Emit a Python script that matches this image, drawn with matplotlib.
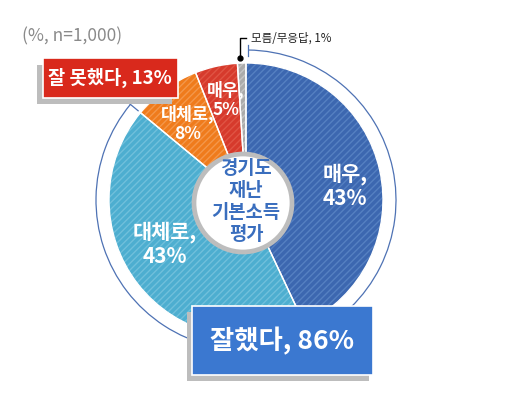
import matplotlib
matplotlib.use("Agg")
import matplotlib.pyplot as plt
from matplotlib.patches import Wedge, Circle, Rectangle, Arc
import numpy as np

plt.rcParams['font.family'] = ['Noto Sans CJK KR', 'DejaVu Sans']
plt.rcParams['hatch.linewidth'] = 1.0

# Data
categories = ['모름/무응답', '잘 못했다 - 매우', '잘 못했다 - 대체로', '잘했다 - 대체로', '잘했다 - 매우']
values = [1, 5, 8, 43, 43]
face_colors = ['#ABABAB', '#D63A2C', '#EF7B1C', '#4DAED0', '#3C67B0']
stripe_colors = ['#C6C6C6', '#E05444', '#F4974A', '#70C0DB', '#5580C2']
good_total = 86
bad_total = 13
unknown_total = 1
center_lines = ['경기도', '재난', '기본소득', '평가']

W, H = 507, 396
fig = plt.figure(figsize=(W / 100, H / 100), dpi=100)
ax = fig.add_axes([0, 0, 1, 1])

def Y(y):
    return H - y

cx, cy = 246, Y(200)
R = 137

# Pie wedges, counterclockwise from top
wedges, _ = ax.pie(values, startangle=90, counterclock=True, center=(cx, cy), radius=R,
                   colors=face_colors, wedgeprops=dict(linewidth=0), frame=True)
ax.set_xlim(0, W)
ax.set_ylim(0, H)
ax.set_aspect('equal')
ax.axis('off')
for w, sc in zip(wedges, stripe_colors):
    h = Wedge(w.center, w.r, w.theta1, w.theta2, facecolor='none', edgecolor=sc,
              hatch='/////', linewidth=0, zorder=w.get_zorder() + 0.1)
    ax.add_patch(h)
    sep = Wedge(w.center, w.r, w.theta1, w.theta2, facecolor='none', edgecolor='white',
                linewidth=1.0, zorder=w.get_zorder() + 0.2)
    ax.add_patch(sep)

# Centre hole
hx, hy = 243, Y(203)
ax.add_patch(Circle((hx, hy), 49, facecolor='white', edgecolor='#BDBDBD', linewidth=3.4, zorder=5))
ax.text(246, Y(201), '\n'.join(center_lines), ha='center', va='center', fontsize=13.5,
        fontweight='bold', color='#3A6EBE', linespacing=1.2, zorder=6)

# Outer arc for 잘했다 (86%)
Ra = 150
theta_end = 90
theta_start = 90 - good_total * 3.6
ax.add_patch(Arc((cx, cy), 2 * Ra, 2 * Ra, theta1=theta_start + 360, theta2=theta_end + 360 - 0.8,
                 color='#4E72B4', linewidth=0.9, zorder=3))
# ticks at ends
t = np.deg2rad(89.2)
ax.plot([cx + Ra * np.cos(t)] * 2, [Y(45), Y(56)], color='#4E72B4', lw=0.9)
t2 = np.deg2rad(theta_start + 360)
ax.plot([cx + (Ra - 10) * np.cos(t2), cx + (Ra + 6) * np.cos(t2)],
        [cy + (Ra - 10) * np.sin(t2), cy + (Ra + 6) * np.sin(t2)], color='#4E72B4', lw=0.9)

# Wedge labels
ax.text(345, Y(186), '매우,\n43%', ha='center', va='center', fontsize=15, fontweight='bold',
        color='white', linespacing=1.15, zorder=6)
ax.text(165, Y(244), '대체로,\n43%', ha='center', va='center', fontsize=15, fontweight='bold',
        color='white', linespacing=1.15, zorder=6)
ax.text(188, Y(124), '대체로,\n8%', ha='center', va='center', fontsize=12.5, fontweight='bold',
        color='white', linespacing=1.1, zorder=6)
ax.text(226, Y(100), '매우,\n5%', ha='center', va='center', fontsize=12.5, fontweight='bold',
        color='white', linespacing=1.1, zorder=6)

# Unknown label with leader line
ax.plot([240, 240, 246], [Y(58), Y(38), Y(38)], color='black', lw=1.0, zorder=7)
ax.plot([240], [Y(58)], 'o', color='black', ms=3.5, zorder=7)
ax.text(251, Y(38), f'모름/무응답, {unknown_total}%', ha='left', va='center', fontsize=8.3,
        color='#222222', zorder=7)

# n label
ax.text(22, Y(36), '(%, n=1,000)', ha='left', va='center', fontsize=12.5, color='#8A8A8A')

# Red box
ax.add_patch(Rectangle((37, Y(104)), 135, 39, facecolor='#BDBDBD', edgecolor='none', zorder=8))
ax.add_patch(Rectangle((43, Y(98)), 135, 40, facecolor='#D9291C', edgecolor='white', lw=1.2, zorder=9))
ax.text(110, Y(78), f'잘 못했다, {bad_total}%', ha='center', va='center', fontsize=13.5,
        fontweight='bold', color='white', zorder=10)

# Blue box
ax.add_patch(Rectangle((187, Y(381)), 182, 69, facecolor='#BDBDBD', edgecolor='none', zorder=8))
ax.add_patch(Rectangle((192, Y(375)), 181, 69, facecolor='#3B78D0', edgecolor='white', lw=1.2, zorder=9))
ax.text(282, Y(341), f'잘했다, {good_total}%', ha='center', va='center', fontsize=19,
        fontweight='bold', color='white', zorder=10)

fig.savefig('out.png', dpi=100)
